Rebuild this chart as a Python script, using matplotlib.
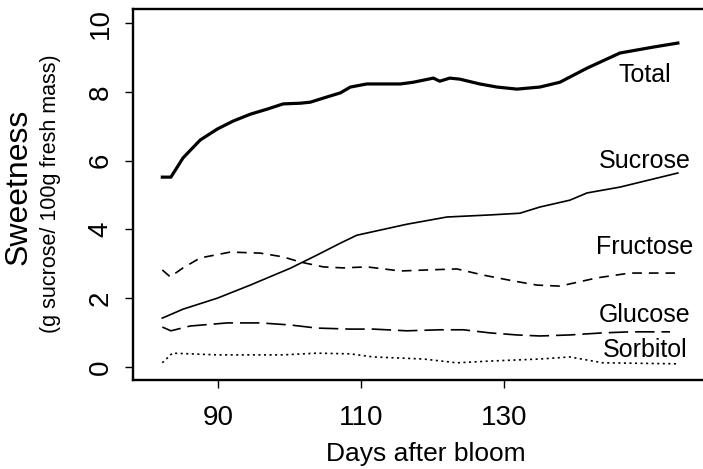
import matplotlib
matplotlib.use("Agg")
import matplotlib.pyplot as plt

# values (days after bloom, g sucrose equiv / 100 g)
total_days = [82.2, 83.4, 85.1, 87.5, 89.9, 92.1, 94.5, 96.9, 99.1, 101.5, 102.9, 105.2,
              107.1, 108.5, 110.8, 115.5, 117.3, 120.1, 121.0, 122.4, 123.8, 126.6,
              129.0, 131.8, 135.0, 137.8, 141.6, 146.2, 150.8, 154.3]
total = [5.52, 5.52, 6.08, 6.6, 6.92, 7.15, 7.35, 7.5, 7.65, 7.67, 7.7, 7.85,
         7.97, 8.14, 8.23, 8.23, 8.28, 8.4, 8.31, 8.4, 8.37, 8.23,
         8.14, 8.08, 8.14, 8.28, 8.69, 9.13, 9.3, 9.42]

sucrose_days = [82.2, 85.1, 89.9, 94.5, 100.1, 103.8, 107.1, 109.4, 116.4, 122.0, 128.0,
                132.2, 135.0, 139.2, 141.6, 146.2, 154.3]
sucrose = [1.42, 1.68, 2.0, 2.38, 2.87, 3.25, 3.6, 3.83, 4.15, 4.36, 4.42,
           4.47, 4.65, 4.85, 5.06, 5.23, 5.64]

fructose_days = [82.2, 83.3, 85.1, 87.5, 91.7, 95.9, 99.1, 101.5, 104.7, 107.5, 110.8,
                 115.5, 119.2, 123.4, 127.1, 131.3, 134.6, 137.8, 143.0, 147.6, 153.9]
fructose = [2.82, 2.62, 2.88, 3.17, 3.34, 3.31, 3.2, 3.05, 2.91, 2.88, 2.91,
            2.79, 2.82, 2.85, 2.67, 2.5, 2.38, 2.35, 2.59, 2.73, 2.73]

glucose_days = [82.2, 83.4, 86.1, 91.3, 95.9, 100.1, 103.8, 108.5, 111.7, 116.4, 121.0,
                124.3, 128.0, 131.8, 135.0, 139.2, 143.8, 147.6, 153.2]
glucose = [1.16, 1.05, 1.19, 1.28, 1.28, 1.22, 1.13, 1.1, 1.1, 1.05, 1.08,
           1.08, 0.99, 0.93, 0.9, 0.93, 0.99, 1.02, 1.02]

sorbitol_days = [82.2, 83.6, 89.9, 99.1, 103.8, 108.5, 111.7, 118.7, 123.4, 128.0,
                 135.0, 139.2, 143.8, 154.2]
sorbitol = [0.12, 0.4, 0.35, 0.35, 0.4, 0.38, 0.29, 0.23, 0.12, 0.17,
            0.23, 0.29, 0.12, 0.09]

label_names = ["Total", "Sucrose", "Fructose", "Glucose", "Sorbitol"]
label_y = [8.5, 6.0, 3.5, 1.5, 0.5]
label_x = 149.7

plt.rcParams["font.family"] = ["Liberation Sans", "DejaVu Sans"]
plt.rcParams["lines.scale_dashes"] = False

fig = plt.figure(figsize=(7.03, 4.69), dpi=100)
# axes box runs past the right edge, as in the reference
ax = fig.add_axes([0.1892, 0.1898, 0.833, 0.791])

ax.plot(total_days, total, color="black", lw=2.3)
ax.plot(sucrose_days, sucrose, color="black", lw=1.2)
ax.plot(fructose_days, fructose, color="black", lw=1.2, dashes=(7, 5))
ax.plot(glucose_days, glucose, color="black", lw=1.2, dashes=(14, 5))
ax.plot(sorbitol_days, sorbitol, color="black", lw=1.2, dashes=(1.5, 2.5))

for name, y in zip(label_names, label_y):
    ax.text(label_x, y, name, fontsize=18, ha="center", va="center")

ax.set_xlim(78.1, 160)
ax.set_ylim(-0.38, 10.41)
ax.set_xticks([90, 110, 130])
ax.set_yticks([0, 2, 4, 6, 8, 10])
ax.tick_params(direction="out", length=6, width=1, labelsize=20)
ax.tick_params(axis="x", pad=12)
ax.tick_params(axis="y", pad=8)
for lab in ax.get_yticklabels():
    lab.set_rotation(90)
    lab.set_va("center")
for s in ax.spines.values():
    s.set_linewidth(1.7)

ax.set_xlabel("Days after bloom", fontsize=19, labelpad=8)
fig.text(0.027, 0.601, "Sweetness", rotation=90, fontsize=23, ha="center", va="center")
fig.text(0.0725, 0.586, "(g sucrose/ 100g fresh mass)", rotation=90, fontsize=15.5,
         ha="center", va="center")

fig.savefig("out.png", dpi=100)
